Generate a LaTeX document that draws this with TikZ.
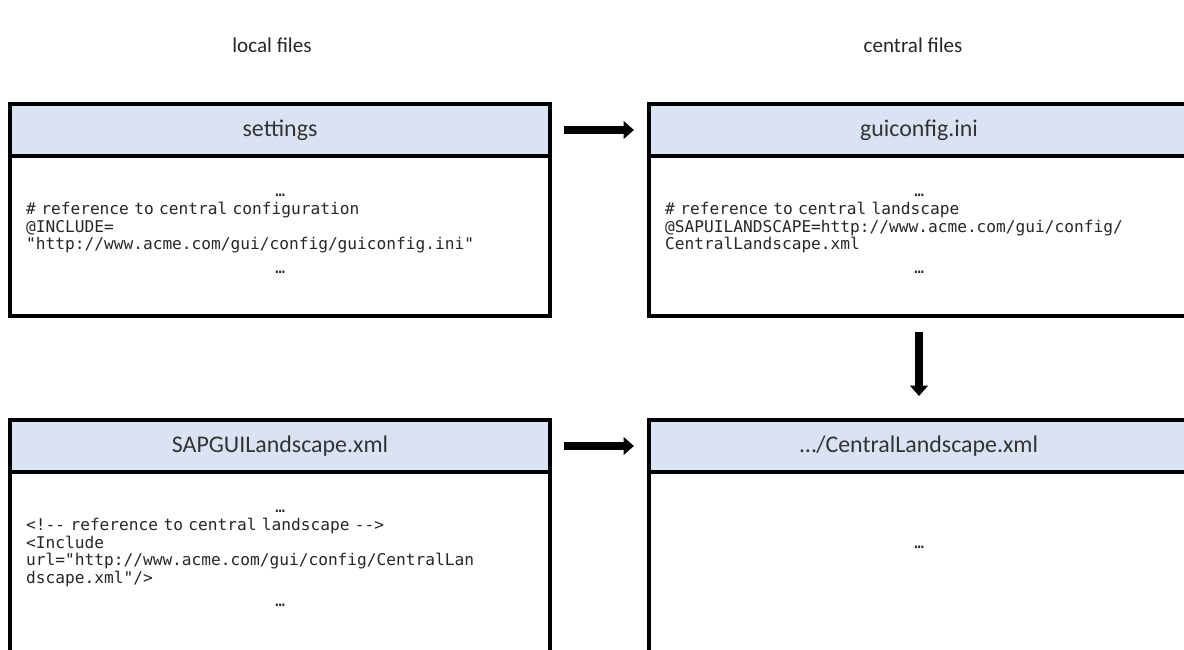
\documentclass[tikz,border=0pt]{standalone}
\usepackage{fontspec}
\setmainfont{Carlito}
\setmonofont{DejaVu Sans Mono}
\usetikzlibrary{arrows.meta,positioning}
\definecolor{headblue}{HTML}{DAE3F3}
\newcommand{\codedots}{\makebox[\hsize]{\strut …}}

\begin{document}
\begin{tikzpicture}[x=0.025cm, y=-0.025cm,
    frame/.style={draw, line width=3pt, outer sep=0pt, inner sep=0pt},
    head/.style={frame, fill=headblue, minimum width=13.5cm, minimum height=1.3cm,
        font=\fontsize{17}{20}\selectfont, text=black!80},
    body/.style={frame, minimum width=13.5cm},
    code/.style={inner sep=0pt, text width=12.7cm, align=left,
        font=\ttfamily\fontsize{11.5}{12.6}\selectfont, text=black!85},
    title/.style={font=\fontsize{15}{18}\selectfont, text=black!85},
    flow/.style={line width=5.6pt, -{Triangle[length=0.26cm, width=0.44cm]}}]
    \useasboundingbox (0,0) rectangle (1184,650);
    \newcommand{\fileblock}[5]{
        \node[head] (#1) at (#2) {#3};
        \node[body, minimum height=#4, below=0pt of #1] (#1body) {};
        \node[code, anchor=north west] (#1code) at ([xshift=0.4cm, yshift=-0.7cm]#1body.north west) {#5};
    }
    % column titles
    \node[title] (localtitle) at (272, 45) {local files};
    \node[title] (centraltitle) at (913, 45) {central files};
    % local side
    \fileblock{settings}{280, 130}{settings}{4cm}{%
        \codedots\\
        \# reference to central configuration\\
        @INCLUDE=\\
        "http://www.acme.com/gui/config/guiconfig.ini"\\[4pt]
        \codedots};
    \fileblock{sapgui}{280, 446}{SAPGUILandscape.xml}{5.8cm}{%
        \codedots\\
        <!-{}- reference to central landscape -{}->\\
        <Include\\
        url="http://www.acme.com/gui/config/CentralLan\\
        dscape.xml"/>\\[4pt]
        \codedots};
    % central side
    \fileblock{guiconfig}{919, 130}{guiconfig.ini}{4cm}{%
        \codedots\\
        \# reference to central landscape\\
        @SAPUILANDSCAPE=http://www.acme.com/gui/config/\\
        CentralLandscape.xml\\[4pt]
        \codedots};
    \fileblock{central}{919, 446}{…/CentralLandscape.xml}{5.8cm}{%
        \makebox[\hsize]{\rule{0pt}{1.2cm}…}};
    % references
    \draw[flow, shorten <=0.35cm, shorten >=0.375cm] (settings.east) -- (guiconfig.west);
    \draw[flow, shorten <=0.35cm, shorten >=0.375cm] (sapgui.east) -- (central.west);
    \draw[flow, shorten <=0.4cm, shorten >=0.6cm] (guiconfigbody.south) -- (central.north);
\end{tikzpicture}
\end{document}
